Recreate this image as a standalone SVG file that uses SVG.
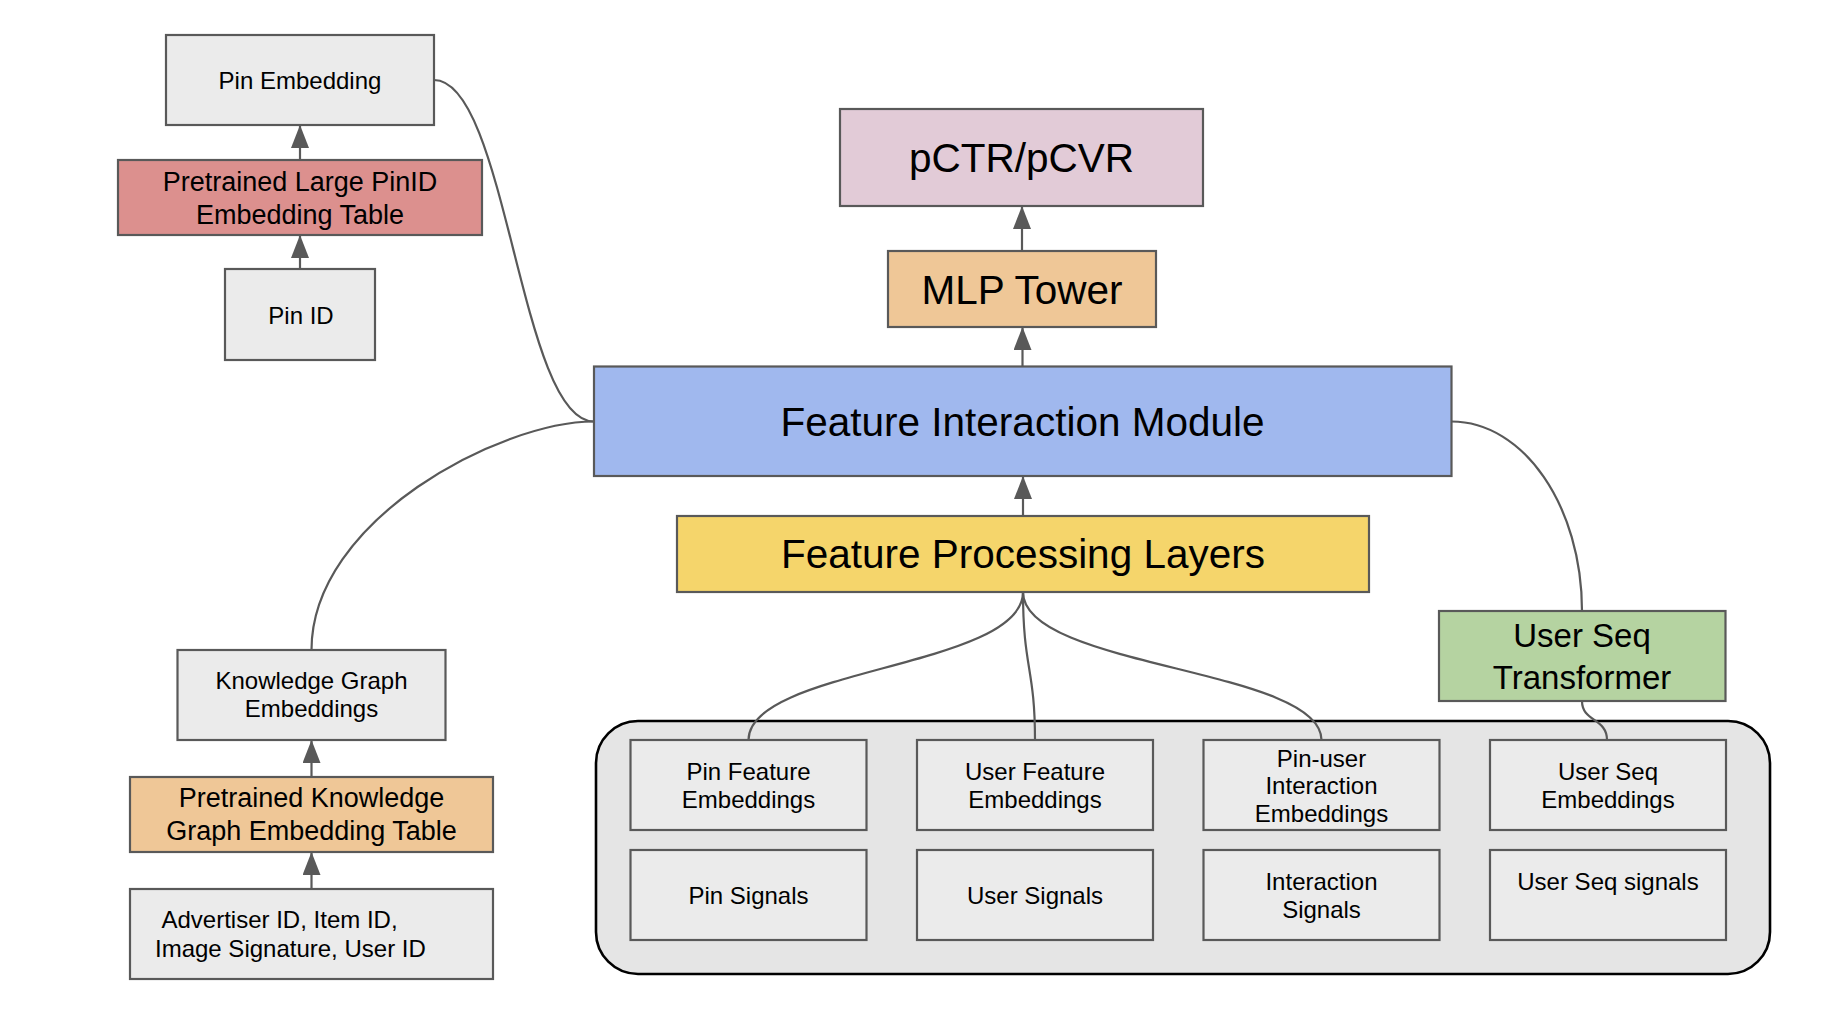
<svg xmlns="http://www.w3.org/2000/svg" width="1844" height="1016" viewBox="0 0 1844 1016">
<style>
  .box { stroke: #595959; stroke-width: 2.2; }
  .gray { fill: #ebebeb; }
  .t { font-family: "Liberation Sans", Arial, sans-serif; fill: #000; text-anchor: middle; }
  .s24 { font-size: 24px; }
  .s27 { font-size: 27px; }
  .s33 { font-size: 33px; }
  .s40 { font-size: 40.5px; }
  .conn { fill: none; stroke: #595959; stroke-width: 2.2; }
</style>
<defs>
  <marker id="ah" viewBox="0 0 23 18" refX="22" refY="9" markerWidth="23" markerHeight="18" orient="auto" markerUnits="userSpaceOnUse">
    <path d="M0,0 L23,9 L0,18 Z" fill="#595959"/>
  </marker>
</defs>
<rect width="1844" height="1016" fill="#ffffff"/>

<g id="container">
  <rect x="596" y="721" width="1174" height="253" rx="42" ry="42" fill="#e5e5e5" stroke="#000" stroke-width="2.6"/>
</g>

<g id="pin-embedding">
  <rect class="box gray" x="166" y="35" width="268" height="90"/>
  <text class="t s24" x="300" y="89">Pin Embedding</text>
</g>
<g id="pretrained-pinid">
  <rect class="box" x="118" y="160" width="364" height="75" fill="#dc908e"/>
  <text class="t s27" x="300" y="190.5">Pretrained Large PinID</text>
  <text class="t s27" x="300" y="223.5">Embedding Table</text>
</g>
<g id="pin-id">
  <rect class="box gray" x="225" y="269" width="150" height="91"/>
  <text class="t s24" x="301" y="323.5">Pin ID</text>
</g>

<g id="kg-embeddings">
  <rect class="box gray" x="177.5" y="650" width="268" height="90"/>
  <text class="t s24" x="311.5" y="689">Knowledge Graph</text>
  <text class="t s24" x="311.5" y="717">Embeddings</text>
</g>
<g id="pretrained-kg">
  <rect class="box" x="130" y="777" width="363" height="75" fill="#efc797"/>
  <text class="t s27" x="311.5" y="807">Pretrained Knowledge</text>
  <text class="t s27" x="311.5" y="840">Graph Embedding Table</text>
</g>
<g id="ids">
  <rect class="box gray" x="130" y="889" width="363" height="90"/>
  <text class="t s24" x="161.5" y="928" style="text-anchor:start">Advertiser ID, Item ID,</text>
  <text class="t s24" x="155" y="956.5" style="text-anchor:start">Image Signature, User ID</text>
</g>

<g id="pctr">
  <rect class="box" x="840" y="109" width="363" height="97" fill="#e2cbd7"/>
  <text class="t s40" x="1021.5" y="172">pCTR/pCVR</text>
</g>
<g id="mlp-tower">
  <rect class="box" x="888" y="251" width="268" height="76" fill="#efc797"/>
  <text class="t s40" x="1022" y="303.5">MLP Tower</text>
</g>
<g id="feature-interaction">
  <rect class="box" x="594" y="366.5" width="857.5" height="109.5" fill="#a0b8ee"/>
  <text class="t s40" x="1022.5" y="435.5">Feature Interaction Module</text>
</g>
<g id="feature-processing">
  <rect class="box" x="677" y="516" width="692" height="76" fill="#f5d56b"/>
  <text class="t s40" x="1023" y="568">Feature Processing Layers</text>
</g>
<g id="user-seq-transformer">
  <rect class="box" x="1439" y="611" width="286.5" height="90" fill="#b5d3a1"/>
  <text class="t s33" x="1582" y="647">User Seq</text>
  <text class="t s33" x="1582" y="688.5">Transformer</text>
</g>

<g id="pin-feature-emb">
  <rect class="box gray" x="630.5" y="740" width="236" height="90"/>
  <text class="t s24" x="748.5" y="780">Pin Feature</text>
  <text class="t s24" x="748.5" y="808">Embeddings</text>
</g>
<g id="user-feature-emb">
  <rect class="box gray" x="917" y="740" width="236" height="90"/>
  <text class="t s24" x="1035" y="780">User Feature</text>
  <text class="t s24" x="1035" y="808">Embeddings</text>
</g>
<g id="pin-user-emb">
  <rect class="box gray" x="1203.5" y="740" width="236" height="90"/>
  <text class="t s24" x="1321.5" y="766.5">Pin-user</text>
  <text class="t s24" x="1321.5" y="794">Interaction</text>
  <text class="t s24" x="1321.5" y="821.5">Embeddings</text>
</g>
<g id="user-seq-emb">
  <rect class="box gray" x="1490" y="740" width="236" height="90"/>
  <text class="t s24" x="1608" y="780">User Seq</text>
  <text class="t s24" x="1608" y="808">Embeddings</text>
</g>
<g id="pin-signals">
  <rect class="box gray" x="630.5" y="850" width="236" height="90"/>
  <text class="t s24" x="748.5" y="904">Pin Signals</text>
</g>
<g id="user-signals">
  <rect class="box gray" x="917" y="850" width="236" height="90"/>
  <text class="t s24" x="1035" y="904">User Signals</text>
</g>
<g id="interaction-signals">
  <rect class="box gray" x="1203.5" y="850" width="236" height="90"/>
  <text class="t s24" x="1321.5" y="890">Interaction</text>
  <text class="t s24" x="1321.5" y="918">Signals</text>
</g>
<g id="user-seq-signals">
  <rect class="box gray" x="1490" y="850" width="236" height="90"/>
  <text class="t s24" x="1608" y="890">User Seq signals</text>
</g>

<g id="connectors">
  <path class="conn" d="M300,269 L300,236" marker-end="url(#ah)"/>
  <path class="conn" d="M300,160 L300,126" marker-end="url(#ah)"/>
  <path class="conn" d="M311.5,889 L311.5,853" marker-end="url(#ah)"/>
  <path class="conn" d="M311.5,777 L311.5,741" marker-end="url(#ah)"/>
  <path class="conn" d="M1023,516 L1023,477" marker-end="url(#ah)"/>
  <path class="conn" d="M1022.5,366.5 L1022.5,328" marker-end="url(#ah)"/>
  <path class="conn" d="M1022,251 L1022,207" marker-end="url(#ah)"/>
  <path class="conn" d="M434,80 C507,80 520,421.5 594,421.5"/>
  <path class="conn" d="M594,421.5 C500,421.5 311.5,520 311.5,650"/>
  <path class="conn" d="M1451.5,421.5 C1523.5,421.5 1582,506 1582,611"/>
  <path class="conn" d="M1023,592 C1023,668 748.5,668 748.5,740"/>
  <path class="conn" d="M1023,592 C1023,668 1035,668 1035,740"/>
  <path class="conn" d="M1023,592 C1023,668 1321.5,668 1321.5,740"/>
  <path class="conn" d="M1582,701 C1582,722 1607,718 1607,740"/>
</g>
</svg>
